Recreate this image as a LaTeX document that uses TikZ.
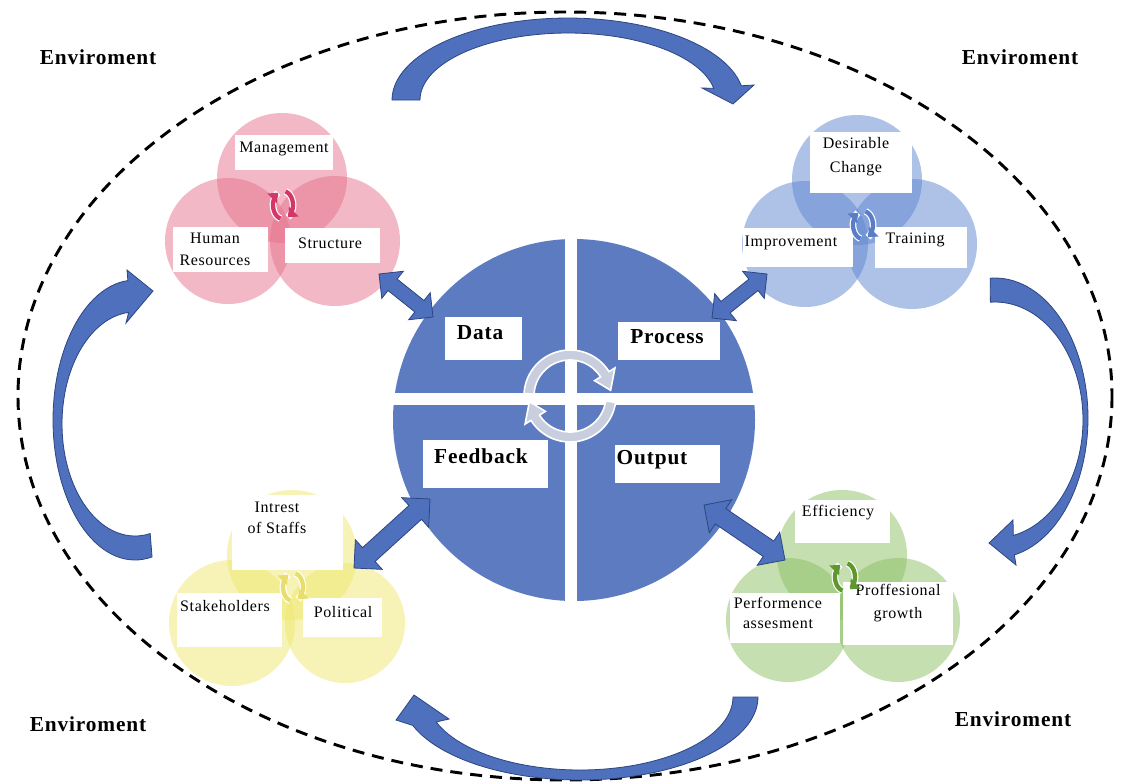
\documentclass[tikz,border=0pt]{standalone}
\usepackage{fontspec}
\setmainfont{Liberation Serif}
\newfontfamily\spacedserif[LetterSpace=4]{Liberation Serif}
\usetikzlibrary{calc,arrows.meta}
\definecolor{cblue}{RGB}{92,123,192}
\definecolor{bigblue}{RGB}{79,112,188}
\definecolor{bigedge}{RGB}{45,70,130}
\definecolor{vpink}{RGB}{231,115,141}
\definecolor{vblue}{RGB}{95,135,209}
\definecolor{vyellow}{RGB}{240,232,110}
\definecolor{vgreen}{RGB}{140,192,100}
\definecolor{ringc}{RGB}{200,206,222}
\definecolor{ipink}{RGB}{210,55,105}
\definecolor{iblue}{RGB}{90,125,200}
\definecolor{iyellow}{RGB}{232,222,110}
\definecolor{igreen}{RGB}{95,150,45}

% double-headed block arrow between two named coordinates
% #1,#2 ends; #3 head length; #4 head half width; #5 shaft half width
\newcommand{\dblarr}[5]{%
  \filldraw[dbl] (#1)
    -- ($(#1)!#3!(#2)!#4!90:(#2)$)
    -- ($(#1)!#3!(#2)!#5!90:(#2)$)
    -- ($(#2)!#3!(#1)!#5!-90:(#1)$)
    -- ($(#2)!#3!(#1)!#4!-90:(#1)$)
    -- (#2)
    -- ($(#2)!#3!(#1)!#4!90:(#1)$)
    -- ($(#2)!#3!(#1)!#5!90:(#1)$)
    -- ($(#1)!#3!(#2)!#5!-90:(#2)$)
    -- ($(#1)!#3!(#2)!#4!-90:(#2)$)
    -- cycle;}

% small refresh icon
\newcommand{\refreshicon}[3]{%
  \draw[white,line width=5pt] plot[domain=-75:60,samples=16] ({#1+10*cos(\x)},{#2+14*sin(\x)});
  \draw[white,line width=5pt] plot[domain=105:240,samples=16] ({#1+10*cos(\x)},{#2+14*sin(\x)});
  \draw[icon,#3] plot[domain=-75:60,samples=16] ({#1+10*cos(\x)},{#2+14*sin(\x)});
  \draw[icon,#3] plot[domain=105:240,samples=16] ({#1+10*cos(\x)},{#2+14*sin(\x)});}

\begin{document}
\begin{tikzpicture}[x=0.75pt,y=-0.75pt,
  lbl/.style={font=\spacedserif\fontsize{12}{16.5}\selectfont,align=center,inner sep=0pt},
  clbl/.style={font=\spacedserif\bfseries\fontsize{16}{18}\selectfont,inner sep=0pt},
  envlbl/.style={font=\spacedserif\bfseries\fontsize{16}{19}\selectfont,inner sep=0pt},
  bigarr/.style={fill=bigblue,draw=bigedge,line width=0.6pt},
  dbl/.style={fill=bigblue,draw=bigedge,line width=0.6pt},
  venn/.style={fill opacity=0.5},
  icon/.style={line width=3.2pt,-{Triangle[length=6pt,width=10pt]}},
  ring/.style={fill=ringc,draw=white,line width=1.2pt}]

\useasboundingbox (0,0) rectangle (1134,783);
\fill[white] (0,0) rectangle (1134,783);

% environment boundary
\draw[line width=2.2pt,dash pattern=on 9pt off 6pt] (565,396) ellipse [x radius=547,y radius=384];

% big curved arrows
\fill[bigarr] plot[domain=180:350,samples=60] ({568+176*cos(\x)},{100+82*sin(\x)})
  -- (754,85) -- (733,104) -- (702,88)
  -- plot[domain=350:180,samples=60] ({568+148*cos(\x)},{100+67*sin(\x)}) -- cycle;
\fill[bigarr] plot[domain=-93:78,samples=60] ({995+93*cos(\x)},{418+140*sin(\x)})
  -- (1016,565) -- (989,543) -- (1013,520)
  -- plot[domain=78:-93,samples=60] ({995+88*cos(\x)},{420+118*sin(\x)}) -- cycle;
\fill[bigarr] plot[domain=0:160,samples=60] ({580+178*cos(\x)},{697+83*sin(\x)})
  -- (396,720) -- (414,695) -- (449,719)
  -- plot[domain=160:0,samples=60] ({580+153*cos(\x)},{697+73*sin(\x)}) -- cycle;
\fill[bigarr] plot[domain=78:265,samples=60] ({135+82*cos(\x)},{420+140*sin(\x)})
  -- (127,270) -- (153,291) -- (126,323)
  -- plot[domain=265:78,samples=60] ({135+73*cos(\x)},{424+112*sin(\x)}) -- cycle;

% pink cluster
\fill[vpink,venn] (282,178) circle [radius=65];
\fill[vpink,venn] (228,241) circle [radius=63];
\fill[vpink,venn] (335,241) circle [radius=65];
\fill[white] (235,135) rectangle (333,170);
\fill[white] (173,227) rectangle (268,272);
\fill[white] (285,228) rectangle (380,263);
\node[lbl] (mgmt) at (284,149) {Management};
\node[lbl] (hr) at (215,249) {Human\\Resources};
\node[lbl] (struct) at (330,243) {Structure};
\refreshicon{283}{205}{ipink}

% blue cluster
\fill[vblue,venn] (857,180) circle [radius=65];
\fill[vblue,venn] (805,244) circle [radius=63];
\fill[vblue,venn] (912,244) circle [radius=65];
\fill[white] (810,132) rectangle (912,193);
\fill[white] (743,228) rectangle (853,267);
\fill[white] (875,227) rectangle (967,268);
\node[lbl,font=\spacedserif\fontsize{12}{18}\selectfont] (desire) at (856,157) {Desirable\\Change};
\node[lbl] (improve) at (791,243) {Improvement};
\node[lbl] (train) at (915,240) {Training};
\refreshicon{863}{225}{iblue}

% yellow cluster
\fill[vyellow,venn] (292,555) circle [radius=65];
\fill[vyellow,venn] (232,623) circle [radius=63];
\fill[vyellow,venn] (345,623) circle [radius=60];
\fill[white] (232,495) rectangle (343,570);
\fill[white] (177,593) rectangle (282,647);
\fill[white] (303,598) rectangle (382,637);
\node[lbl,font=\spacedserif\fontsize{12}{15.5}\selectfont] (staff) at (277,518) {Intrest\\of Staffs};
\node[lbl] (stake) at (225,606) {Stakeholders};
\node[lbl] (polit) at (343,612) {Political};
\refreshicon{293}{587}{iyellow}

% green cluster
\fill[vgreen,venn] (842,555) circle [radius=65];
\fill[vgreen,venn] (788,620) circle [radius=62];
\fill[vgreen,venn] (898,620) circle [radius=62];
\fill[white] (795,500) rectangle (890,543);
\fill[white] (730,593) rectangle (840,643);
\fill[white] (843,582) rectangle (953,645);
\node[lbl] (eff) at (838,513) {Efficiency};
\node[lbl,font=\spacedserif\fontsize{12}{15}\selectfont] (perf) at (778,613) {Performence\\assesment};
\node[lbl,font=\spacedserif\fontsize{12}{17}\selectfont] (prof) at (898,603) {Proffesional\\growth};
\refreshicon{845}{577}{igreen}

% central circle with four quadrants
\fill[cblue] (574,420) circle [radius=181];
\fill[white] (565,230) rectangle (577,612);
\fill[white] (385,393) rectangle (765,405);

% ring arrows in the middle
\filldraw[ring] plot[domain=183:328,samples=40] ({570+46*cos(\x)},{396+46*sin(\x)})
  -- ({570+53*cos(328)},{396+53*sin(328)})
  -- ({570+41*cos(352)},{396+41*sin(352)})
  -- ({570+29*cos(328)},{396+29*sin(328)})
  -- plot[domain=328:183,samples=40] ({570+36*cos(\x)},{396+36*sin(\x)}) -- cycle;
\filldraw[ring] plot[domain=8:148,samples=40] ({570+46*cos(\x)},{396+46*sin(\x)})
  -- ({570+53*cos(148)},{396+53*sin(148)})
  -- ({570+41*cos(172)},{396+41*sin(172)})
  -- ({570+29*cos(148)},{396+29*sin(148)})
  -- plot[domain=148:8,samples=40] ({570+36*cos(\x)},{396+36*sin(\x)}) -- cycle;

% central labels
\fill[white] (445,317) rectangle (522,360);
\fill[white] (618,322) rectangle (720,360);
\fill[white] (423,440) rectangle (548,488);
\fill[white] (615,445) rectangle (720,483);
\node[clbl] (data) at (480,333) {Data};
\node[clbl] (proc) at (667,337) {Process};
\node[clbl] (feed) at (481,456) {Feedback};
\node[clbl] (out) at (652,460) {Output};

% double arrows between clusters and centre
\coordinate (pa1) at (379,274); \coordinate (pa2) at (433,317);
\coordinate (ba1) at (712,318); \coordinate (ba2) at (767,274);
\coordinate (ya1) at (354,568); \coordinate (ya2) at (430,499);
\coordinate (ga1) at (704,505); \coordinate (ga2) at (785,560);
\dblarr{pa1}{pa2}{13pt}{13pt}{5.5pt}
\dblarr{ba1}{ba2}{13pt}{13pt}{5.5pt}
\dblarr{ya1}{ya2}{15pt}{15pt}{7pt}
\dblarr{ga1}{ga2}{15pt}{15pt}{7pt}

% environment labels
\node[envlbl] (env1) at (98,57) {Enviroment};
\node[envlbl] (env2) at (1020,57) {Enviroment};
\node[envlbl] (env3) at (88,724) {Enviroment};
\node[envlbl] (env4) at (1013,719) {Enviroment};
\end{tikzpicture}
\end{document}
